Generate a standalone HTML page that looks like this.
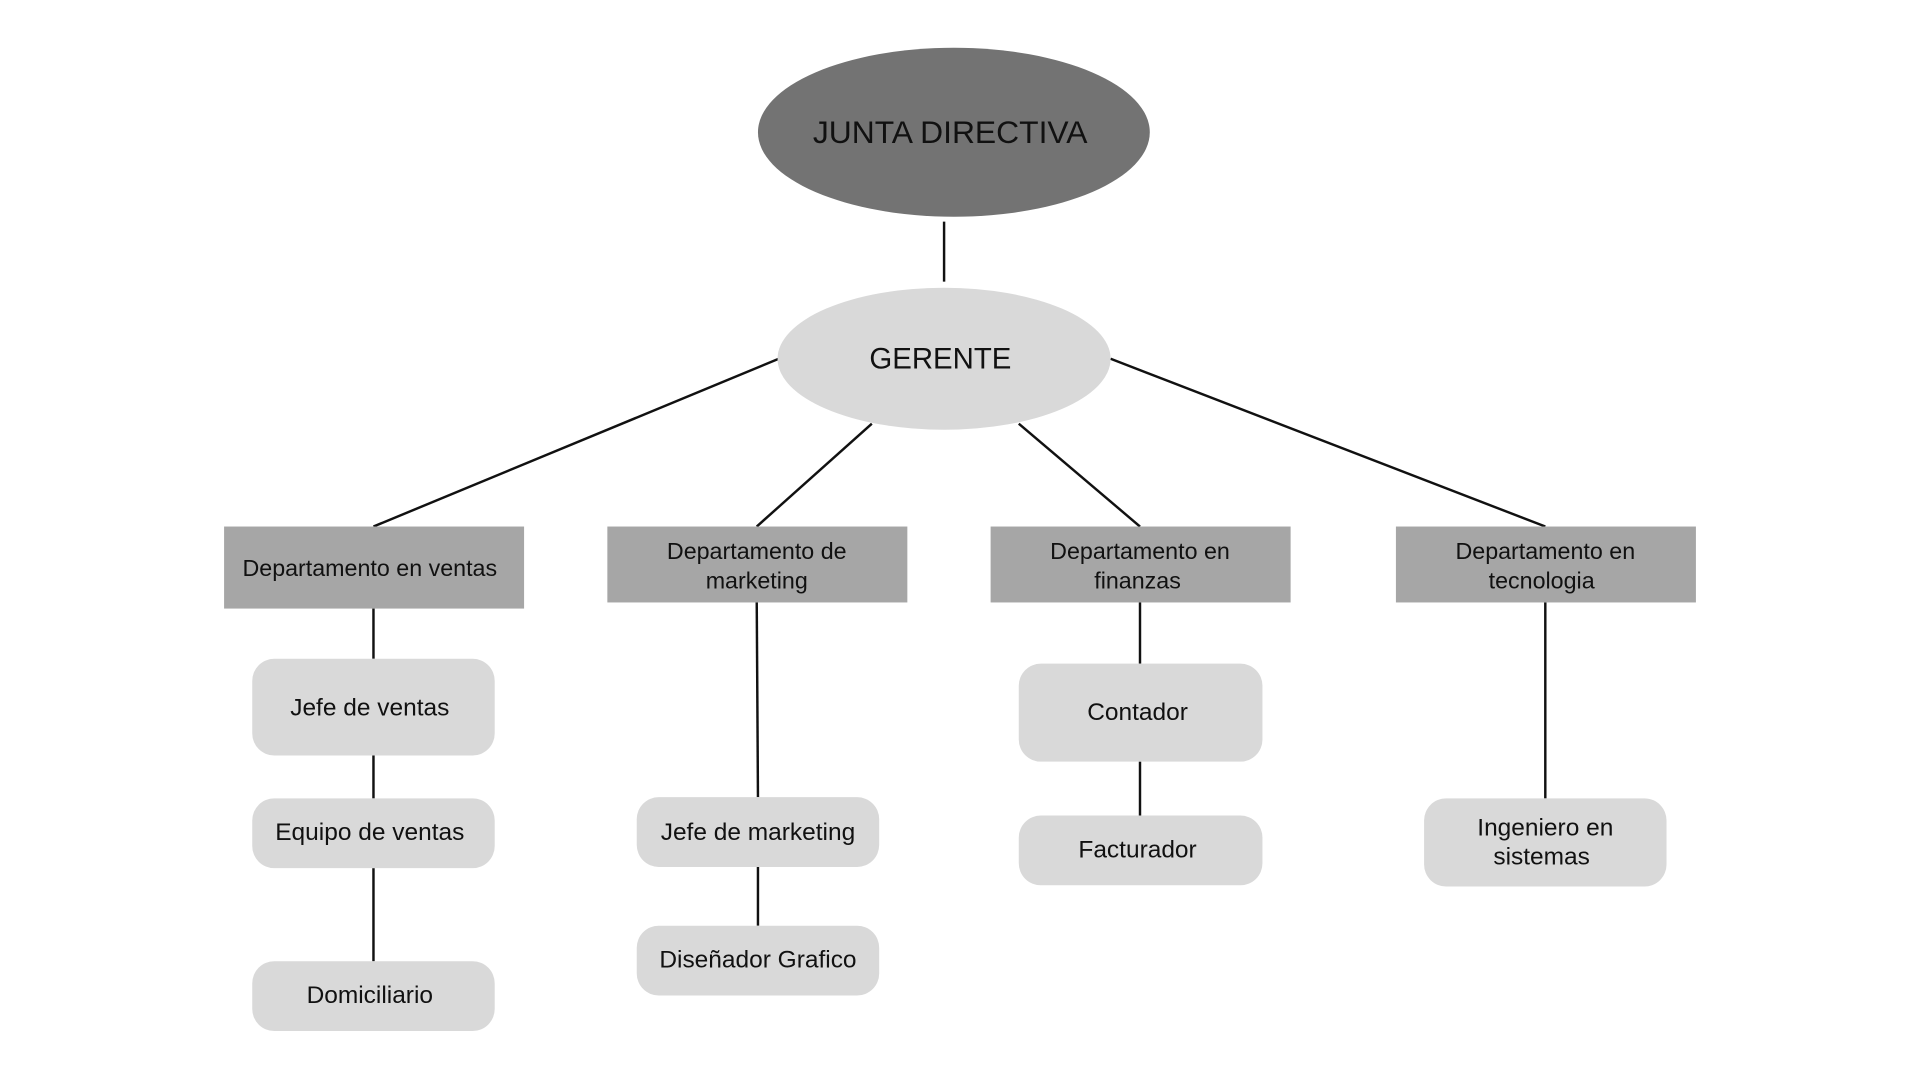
<!DOCTYPE html>
<html><head><meta charset="utf-8"><style>
html,body{margin:0;padding:0;background:#fff;}
svg{display:block;}
text{font-family:"Liberation Sans",sans-serif;fill:#111;text-anchor:middle;dominant-baseline:central;}
</style></head><body>
<svg width="1920" height="1080" viewBox="0 0 1568 882" preserveAspectRatio="none">
<rect width="1568" height="882" fill="#fff"/>
<g stroke="#111" stroke-width="2" fill="none">
<line x1="771" y1="181" x2="771" y2="230"/>
<line x1="636" y1="293" x2="305" y2="430"/>
<line x1="712" y1="346" x2="618" y2="430"/>
<line x1="832" y1="346" x2="931" y2="430"/>
<line x1="907" y1="293" x2="1262" y2="430"/>
<line x1="305" y1="497" x2="305" y2="538"/>
<line x1="305" y1="617" x2="305" y2="652"/>
<line x1="305" y1="709" x2="305" y2="785"/>
<line x1="618" y1="492" x2="619" y2="651"/>
<line x1="619" y1="708" x2="619" y2="756"/>
<line x1="931" y1="492" x2="931" y2="542"/>
<line x1="931" y1="622" x2="931" y2="666"/>
<line x1="1262" y1="492" x2="1262" y2="652"/>
</g>
<ellipse cx="779" cy="108" rx="160" ry="69" fill="#737373"/>
<text x="776" y="108" font-size="26">JUNTA DIRECTIVA</text>
<ellipse cx="771" cy="293" rx="136" ry="58" fill="#d9d9d9"/>
<text x="768" y="293" font-size="24">GERENTE</text>
<g fill="#a6a6a6">
<rect x="183" y="430" width="245" height="67"/>
<rect x="496" y="430" width="245" height="62"/>
<rect x="809" y="430" width="245" height="62"/>
<rect x="1140" y="430" width="245" height="62"/>
</g>
<g font-size="19">
<text x="302" y="464">Departamento en ventas</text>
<text x="618" y="450">Departamento de</text><text x="618" y="474">marketing</text>
<text x="931" y="450">Departamento en</text><text x="929" y="474">finanzas</text>
<text x="1262" y="450">Departamento en</text><text x="1259" y="474">tecnologia</text>
</g>
<g fill="#d9d9d9">
<rect x="206" y="538" width="198" height="79" rx="18"/>
<rect x="206" y="652" width="198" height="57" rx="18"/>
<rect x="206" y="785" width="198" height="57" rx="18"/>
<rect x="520" y="651" width="198" height="57" rx="18"/>
<rect x="520" y="756" width="198" height="57" rx="18"/>
<rect x="832" y="542" width="199" height="80" rx="18"/>
<rect x="832" y="666" width="199" height="57" rx="18"/>
<rect x="1163" y="652" width="198" height="72" rx="18"/>
</g>
<g font-size="20">
<text x="302" y="578">Jefe de ventas</text>
<text x="302" y="680">Equipo de ventas</text>
<text x="302" y="813">Domiciliario</text>
<text x="619" y="680">Jefe de marketing</text>
<text x="619" y="784">Diseñador Grafico</text>
<text x="929" y="582">Contador</text>
<text x="929" y="694">Facturador</text>
<text x="1262" y="676">Ingeniero en</text><text x="1259" y="700">sistemas</text>
</g>
</svg>
</body></html>
